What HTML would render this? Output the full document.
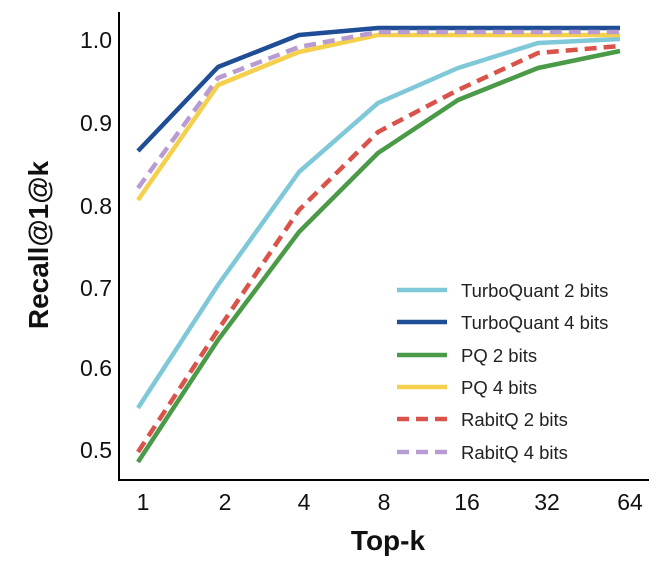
<!DOCTYPE html>
<html><head><meta charset="utf-8"><style>
html,body{margin:0;padding:0;background:#fff;}
svg{display:block;font-family:"Liberation Sans",sans-serif;}
</style></head><body>
<svg width="660" height="568" viewBox="0 0 660 568">
<g fill="none" stroke-width="4.5" stroke-linejoin="round">
<polyline stroke="#7ec8d8" points="138,408 218,285 299,172 378,103 458,68 538,43 620,39"/>
<polyline stroke="#4a9a48" points="138,462 218,340 299,232 378,153 458,100 538,68 620,51"/>
<polyline stroke="#d9534a" stroke-dasharray="12,7" points="138,452 218,330 299,210 378,132 458,90 538,53 620,46"/>
<polyline stroke="#f5d04c" points="138,200 218,85 299,52 378,35 458,35 538,35 620,35"/>
<polyline stroke="#1f4e96" points="138,151 218,67 299,35 378,28 458,28 538,28 620,28"/>
<polyline stroke="#b89bd0" stroke-dasharray="12,7" points="138,188 218,78 299,47 378,32 458,32 538,32 620,32"/>
</g>
<line x1="119" y1="12" x2="119" y2="481" stroke="#000" stroke-width="2"/>
<line x1="118" y1="480" x2="649" y2="480" stroke="#000" stroke-width="2"/>
<g font-size="23" fill="#111" text-anchor="end">
<text x="112" y="48">1.0</text>
<text x="112" y="131">0.9</text>
<text x="112" y="214">0.8</text>
<text x="112" y="296">0.7</text>
<text x="112" y="376">0.6</text>
<text x="112" y="458">0.5</text>
</g>
<g font-size="23" fill="#111" text-anchor="middle">
<text x="143" y="510">1</text>
<text x="225" y="510">2</text>
<text x="304" y="510">4</text>
<text x="384" y="510">8</text>
<text x="467" y="510">16</text>
<text x="547" y="510">32</text>
<text x="630" y="510">64</text>
</g>
<text x="388" y="550" font-size="28" font-weight="bold" text-anchor="middle" fill="#111">Top-k</text>
<text transform="translate(48,245) rotate(-90)" font-size="28" font-weight="bold" text-anchor="middle" fill="#111">Recall@1@k</text>
<g stroke-width="4.5">
<line x1="397" y1="290" x2="447" y2="290" stroke="#7ec8d8"/>
<line x1="397" y1="322" x2="447" y2="322" stroke="#1f4e96"/>
<line x1="397" y1="355" x2="447" y2="355" stroke="#4a9a48"/>
<line x1="397" y1="387" x2="447" y2="387" stroke="#f5d04c"/>
<line x1="397" y1="419" x2="447" y2="419" stroke="#d9534a" stroke-dasharray="12,7"/>
<line x1="397" y1="452" x2="447" y2="452" stroke="#b89bd0" stroke-dasharray="12,7"/>
</g>
<g font-size="18.5" fill="#222">
<text x="461" y="297">TurboQuant 2 bits</text>
<text x="461" y="329">TurboQuant 4 bits</text>
<text x="461" y="362">PQ 2 bits</text>
<text x="461" y="394">PQ 4 bits</text>
<text x="461" y="426">RabitQ 2 bits</text>
<text x="461" y="459">RabitQ 4 bits</text>
</g>
</svg>
</body></html>
